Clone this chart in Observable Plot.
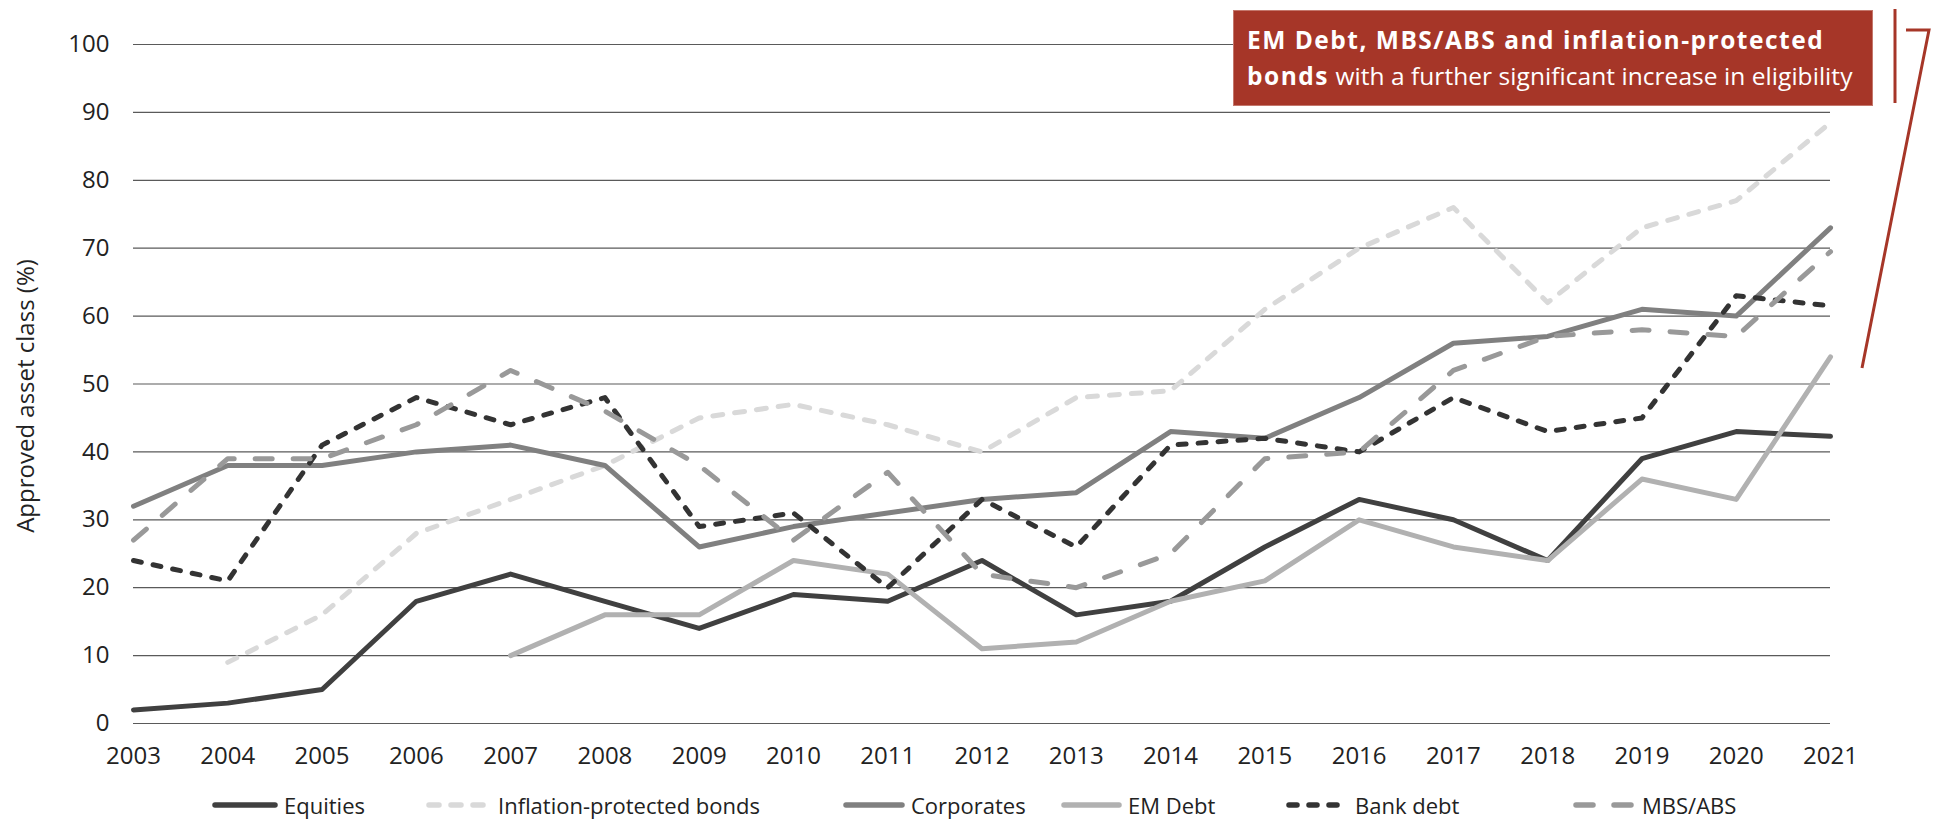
<!DOCTYPE html>
<html>
<head>
<meta charset="utf-8">
<script src="https://cdn.jsdelivr.net/npm/d3@7"></script>
<script src="https://cdn.jsdelivr.net/npm/@observablehq/plot@0.6"></script>
<style>
  body { margin: 0; background: #fff; font-family: "Open Sans", sans-serif; }
  #wrap { position: relative; width: 1935px; height: 820px; overflow: hidden; }
  #chart svg { display: block; }
  #note {
    position: absolute; left: 1233px; top: 10px; width: 640px; height: 96px;
    box-sizing: border-box; background: #a63628; color: #fff;
    font-size: 24.5px; line-height: 36px; padding: 11px 0 0 13px;
    border: 1px solid #c4776c; white-space: nowrap; letter-spacing: 0.05px;
  }
  #note b { font-weight: 700; letter-spacing: 1.5px; }
  #ylab {
    position: absolute; left: 25px; top: 396px; width: 0; height: 0;
  }
  #ylab span {
    position: absolute; transform: translate(-50%, -50%) rotate(-90deg);
    white-space: nowrap; font-size: 24px; color: #222; line-height: 24px;
  }
  #bracket { position: absolute; left: 0; top: 0; pointer-events: none; }
  .leg { position: absolute; top: 787px; height: 36px; display: flex; align-items: center; }
  .leg span { font-size: 22px; color: #222; margin-left: 6px; }
</style>
</head>
<body>
<div id="wrap">
  <div id="chart"></div>
  <div id="ylab"><span>Approved asset class (%)</span></div>
  <div id="note"><b>EM Debt, MBS/ABS and inflation-protected</b><br><b>bonds</b> with a further significant increase in eligibility</div>
  <svg id="bracket" width="1935" height="820">
    <line x1="1895" y1="9" x2="1895" y2="103" stroke="#a63628" stroke-width="3"/>
    <polyline points="1906,30 1929,30 1862,368" fill="none" stroke="#a63628" stroke-width="3"/>
  </svg>
  <div id="legend"></div>
</div>
<script>
// ---- data ----
const years = [2003,2004,2005,2006,2007,2008,2009,2010,2011,2012,2013,2014,2015,2016,2017,2018,2019,2020,2021];
const equities   = [2, 3, 5, 18, 22, 18, 14, 19, 18, 24, 16, 18, 26, 33, 30, 24, 39, 43, 42.3];
const inflation  = [null, 9, 16, 28, 33, 38, 45, 47, 44, 40, 48, 49, 61, 70, 76, 62, 73, 77, 88.5];
const corporates = [32, 38, 38, 40, 41, 38, 26, 29, 31, 33, 34, 43, 42, 48, 56, 57, 61, 60, 73];
const emDebt     = [null, null, null, null, 10, 16, 16, 24, 22, 11, 12, 18, 21, 30, 26, 24, 36, 33, 54];
const bankDebt   = [24, 21, 41, 48, 44, 48, 29, 31, 20, 33, 26, 41, 42, 40, 48, 43, 45, 63, 61.5];
const mbsAbs     = [27, 39, 39, 44, 52, 46, 38, 27, 37, 22, 20, 25, 39, 40, 52, 57, 58, 57, 69.5];
const seriesNames = ["Equities", "Inflation-protected bonds", "Corporates", "EM Debt", "Bank debt", "MBS/ABS"];
const yTicks = [0,10,20,30,40,50,60,70,80,90,100];

// ---- styles ----
const seriesValues = [equities, inflation, corporates, emDebt, bankDebt, mbsAbs];
const colors = ["#404040", "#d9d9d9", "#808080", "#b1b1b1", "#333333", "#999999"];
const dashes = [null, "10,12", null, null, "8,12", "17,21"];
const legendPos = [[212, 286], [426, 500], [843, 913], [1061, 1130], [1286, 1357], [1573, 1644]];
const SW = 5;

const lineMarks = seriesNames.map((name, k) => {
  const rows = years.map((yr, i) => ({year: yr, value: seriesValues[k][i], series: name}))
                    .filter(d => d.value != null);
  const opts = {x: "year", y: "value", stroke: colors[k], strokeWidth: SW,
                curve: "linear", strokeLinecap: "round", strokeLinejoin: "round"};
  if (dashes[k]) opts.strokeDasharray = dashes[k];
  return Plot.line(rows, opts);
});

const chart = Plot.plot({
  width: 1935,
  height: 770,
  marginLeft: 133,
  marginRight: 105,
  marginTop: 44,
  marginBottom: 47,
  style: {fontFamily: "'Open Sans', sans-serif", color: "#222", background: "#fff"},
  x: {domain: [2003, 2021]},
  y: {domain: [0, 100]},
  marks: [
    Plot.ruleY(yTicks, {stroke: "#5a5a5a", strokeWidth: 1.2}),
    Plot.axisX({ticks: years, tickFormat: d => String(d), tickSize: 0, tickPadding: 23,
                fontSize: 24, label: null}),
    Plot.axisY({ticks: yTicks, tickSize: 0, tickPadding: 24, fontSize: 24, label: null}),
    ...lineMarks
  ]
});
document.getElementById("chart").appendChild(chart);

// ---- legend ----
const legend = document.getElementById("legend");
seriesNames.forEach((name, k) => {
  const item = document.createElement("div");
  item.className = "leg";
  item.style.left = legendPos[k][0] + "px";
  const w = legendPos[k][1] - legendPos[k][0] - 8;
  const ns = "http://www.w3.org/2000/svg";
  const s = document.createElementNS(ns, "svg");
  s.setAttribute("width", w); s.setAttribute("height", 12);
  const l = document.createElementNS(ns, "line");
  l.setAttribute("x1", 3); l.setAttribute("x2", w - 3);
  l.setAttribute("y1", 6); l.setAttribute("y2", 6);
  l.setAttribute("stroke", colors[k]); l.setAttribute("stroke-width", 5.5);
  l.setAttribute("stroke-linecap", "round");
  if (dashes[k]) l.setAttribute("stroke-dasharray", dashes[k]);
  s.appendChild(l);
  item.appendChild(s);
  const t = document.createElement("span");
  t.textContent = name;
  item.appendChild(t);
  legend.appendChild(item);
});
</script>
</body>
</html>
